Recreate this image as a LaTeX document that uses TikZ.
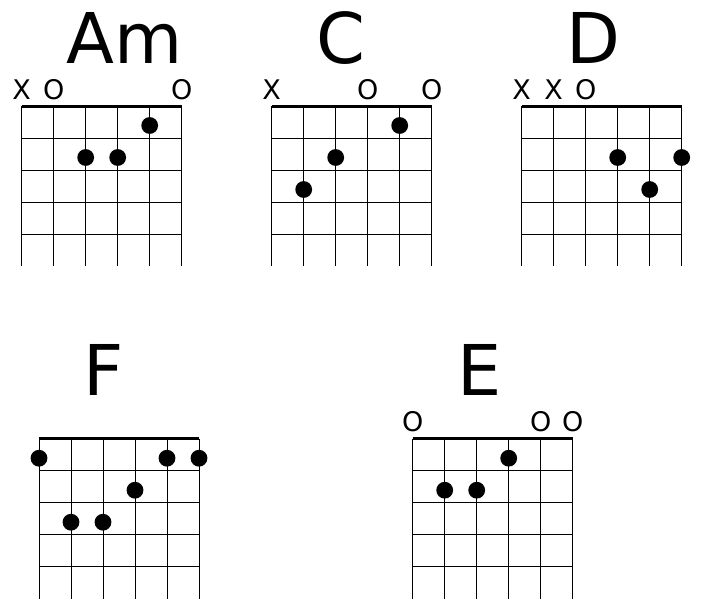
\documentclass[tikz,border=0pt]{standalone}
\usepackage{fontspec}
\setmainfont{DejaVu Sans}
\tikzset{
  stringline/.style={line width=1pt, line cap=butt},
  fretline/.style={line width=1pt},
  nutline/.style={line width=3pt},
  fingerdot/.style={circle, fill=black, inner sep=0pt, minimum size=16.8pt},
  chordname/.style={font=\fontsize{70}{70}\selectfont, inner sep=0pt, anchor=base west},
  openmark/.style={font=\fontsize{27}{27}\selectfont, inner sep=0pt, anchor=base},
}
\newcommand\chordgrid{%
  \foreach \s in {0,...,5} \draw[stringline] (32*\s,0) -- (32*\s,160);
  \foreach \f in {1,...,4} \draw[fretline] (0,32*\f) -- (160,32*\f);
  \draw[nutline] (0,0) -- (160,0);
}
\begin{document}
\begin{tikzpicture}[x=1pt,y=-1pt]
\useasboundingbox (0,0) rectangle (702,614);
\fill[white] (0,0) rectangle (702,614);
% Am
\begin{scope}[shift={(21.7,106)}]
  \chordgrid
  \node[chordname] (amT) at (44.5,-43) {Am};
  \node[openmark] (amM1) at (0,-7) {X};
  \node[openmark] (amM2) at (32,-7) {O};
  \node[openmark] (amM6) at (160,-7) {O};
  \node[fingerdot] (amD5) at (128,19.5) {};
  \node[fingerdot] (amD3) at (64,51.5) {};
  \node[fingerdot] (amD4) at (96,51.5) {};
\end{scope}
% C
\begin{scope}[shift={(271.7,106)}]
  \chordgrid
  \node[chordname] (cT) at (44.5,-43) {C};
  \node[openmark] (cM1) at (0,-7) {X};
  \node[openmark] (cM4) at (96,-7) {O};
  \node[openmark] (cM6) at (160,-7) {O};
  \node[fingerdot] (cD5) at (128,19.5) {};
  \node[fingerdot] (cD3) at (64,51.5) {};
  \node[fingerdot] (cD2) at (32,83.5) {};
\end{scope}
% D
\begin{scope}[shift={(521.7,106)}]
  \chordgrid
  \node[chordname] (dT) at (44.5,-43) {D};
  \node[openmark] (dM1) at (0,-7) {X};
  \node[openmark] (dM2) at (32,-7) {X};
  \node[openmark] (dM3) at (64,-7) {O};
  \node[fingerdot] (dD4) at (96,51.5) {};
  \node[fingerdot] (dD6) at (160,51.5) {};
  \node[fingerdot] (dD5) at (128,83.5) {};
\end{scope}
% F
\begin{scope}[shift={(39,438.7)}]
  \chordgrid
  \node[chordname] (fT) at (44.5,-43) {F};
  \node[fingerdot] (fD1) at (0,19.5) {};
  \node[fingerdot] (fD5) at (128,19.5) {};
  \node[fingerdot] (fD6) at (160,19.5) {};
  \node[fingerdot] (fD4) at (96,51.5) {};
  \node[fingerdot] (fD2) at (32,83.5) {};
  \node[fingerdot] (fD3) at (64,83.5) {};
\end{scope}
% E
\begin{scope}[shift={(412.7,438.7)}]
  \chordgrid
  \node[chordname] (eT) at (44.5,-43) {E};
  \node[openmark] (eM1) at (0,-7) {O};
  \node[openmark] (eM5) at (128,-7) {O};
  \node[openmark] (eM6) at (160,-7) {O};
  \node[fingerdot] (eD4) at (96,19.5) {};
  \node[fingerdot] (eD2) at (32,51.5) {};
  \node[fingerdot] (eD3) at (64,51.5) {};
\end{scope}
\end{tikzpicture}
\end{document}
